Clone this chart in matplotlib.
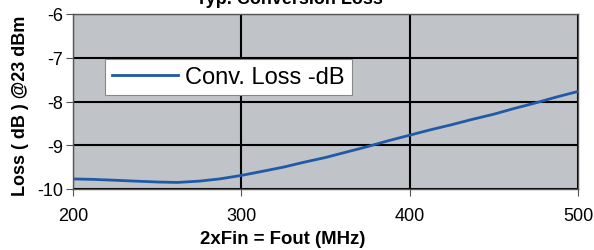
import matplotlib
matplotlib.use("Agg")
import matplotlib.pyplot as plt

plt.rcParams['font.family'] = ['Liberation Sans', 'DejaVu Sans']
plt.rcParams['axes.unicode_minus'] = False

freq = [200, 212, 225, 237, 250, 262, 275, 287, 300, 312, 325, 337, 350, 362, 375,
        387, 400, 412, 425, 437, 450, 462, 475, 487, 500]
loss = [-9.77, -9.78, -9.80, -9.82, -9.84, -9.85, -9.82, -9.77, -9.69, -9.60, -9.50,
        -9.39, -9.28, -9.16, -9.03, -8.90, -8.77, -8.65, -8.53, -8.41, -8.29,
        -8.16, -8.03, -7.90, -7.77]
xticks = [200, 300, 400, 500]
yticks = [-10, -9, -8, -7, -6]

fig = plt.figure(figsize=(5.94, 2.51), dpi=100)
W, H = 594, 251
ax = fig.add_axes([73 / W, 1 - 190 / H, (578 - 73) / W, (190 - 15) / H])
ax.set_facecolor('#c0c4c8')
ax.plot(freq, loss, color='#1f5aa8', lw=2.0, label='Conv. Loss -dB')
ax.set_xlim(200, 500)
ax.set_ylim(-10, -6)
ax.set_xticks(xticks)
ax.set_yticks(yticks)
ax.grid(True, color='black', lw=1.5)
ax.set_axisbelow(True)
for s in ax.spines.values():
    s.set_color('#555555')
    s.set_linewidth(1.0)
ax.tick_params(axis='both', direction='out', length=5, color='#555555', labelsize=13, pad=2)
ax.tick_params(axis='x', pad=8)
ax.set_xlabel('2xFin = Fout (MHz)', fontsize=13.4, fontweight='bold', labelpad=4)
ax.xaxis.set_label_coords((283 - 73) / 505, -0.235)
ax.xaxis.label.set_va('top')
ax.set_ylabel('Loss ( dB ) @23 dBm', fontsize=13, fontweight='bold', labelpad=4)
ax.yaxis.set_label_coords(-0.27 * 505 / 505 * 0 + (-(73 - 12) / 505), 1 - (106 - 15) / 175)
ax.yaxis.label.set_va('top')
leg = ax.legend(loc='upper left', bbox_to_anchor=(32 / 505, 1 - 45 / 175), fontsize=17,
                frameon=True, fancybox=False, edgecolor='#888888', framealpha=1,
                handlelength=2.8, borderpad=0.3, handletextpad=0.3, borderaxespad=0)
leg.get_frame().set_linewidth(0.8)
fig.text(289 / W, 1 - 4 / H, 'Typ. Conversion Loss', ha='center', va='baseline',
         fontsize=13, fontweight='bold')
fig.savefig('out.png', dpi=100)
